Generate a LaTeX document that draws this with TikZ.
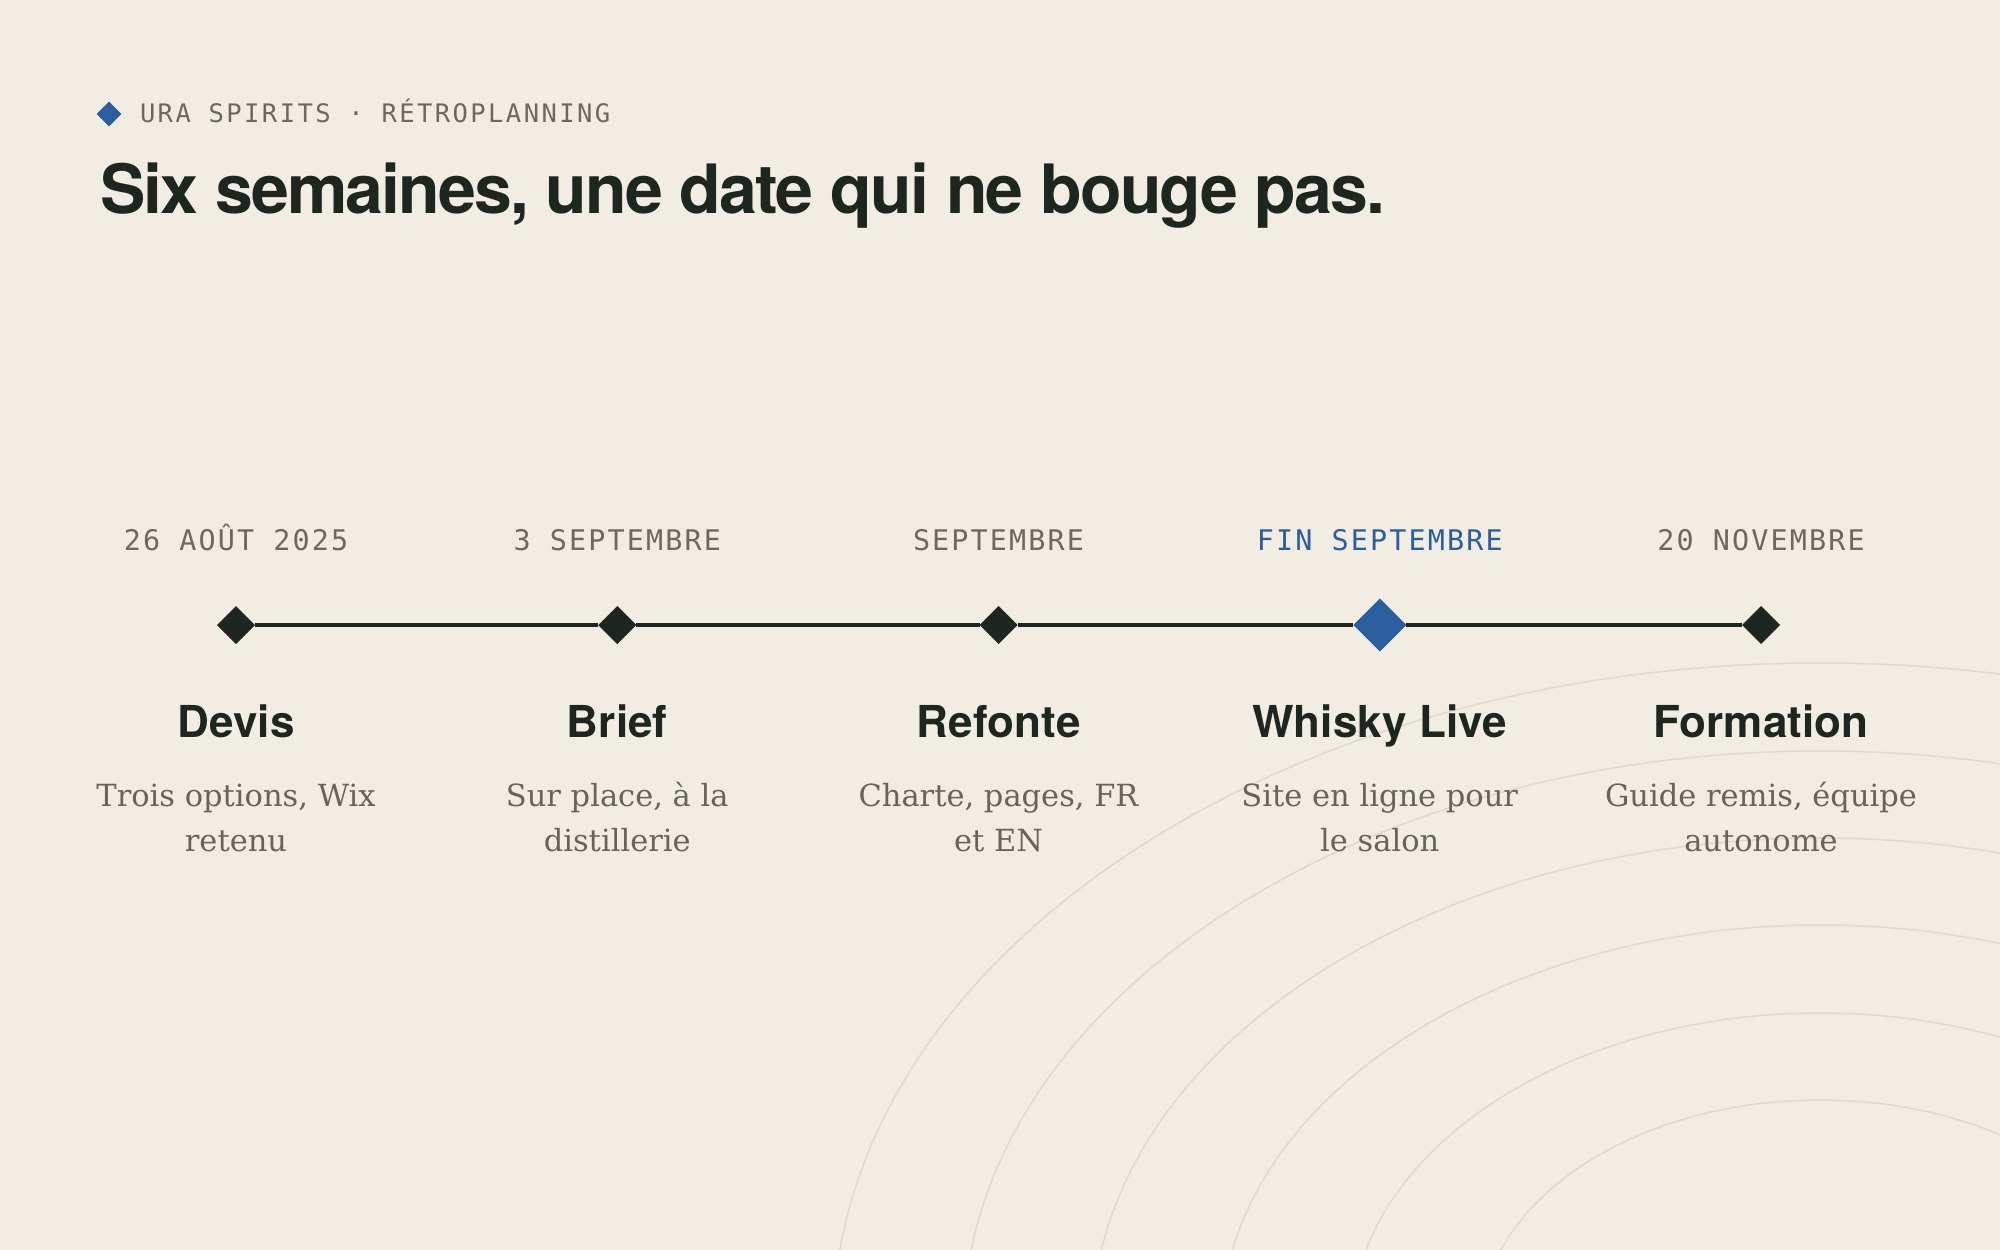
\documentclass[tikz,border=0pt]{standalone}
\usepackage{fontspec}
\setmainfont{DejaVu Serif}
\newfontfamily\headfont[LetterSpace=-2.8]{TeX Gyre Heros}
\newfontfamily\stepfont[LetterSpace=0.3]{TeX Gyre Heros}
\newfontfamily\kickerfont[LetterSpace=9.5]{DejaVu Sans Mono}
\newfontfamily\datefont[LetterSpace=7.5]{DejaVu Sans Mono}
\newfontfamily\descfont{DejaVu Serif}
\usetikzlibrary{shapes.geometric}
\definecolor{bg}{HTML}{F2EDE3}
\definecolor{ink}{HTML}{1E2620}
\definecolor{muted}{HTML}{6E695D}
\definecolor{descc}{HTML}{69645A}
\definecolor{accent}{HTML}{2A5E9E}
\definecolor{arcc}{HTML}{E0DACD}
\begin{document}
\begin{tikzpicture}[x=1pt,y=-1pt,
  txt/.style={inner sep=0pt, outer sep=0pt, anchor=base},
  kicker/.style={txt, anchor=base west, text=muted, font={\kickerfont\fontsize{25.5}{30}\selectfont}},
  headline/.style={txt, anchor=base west, text=ink, font={\headfont\bfseries\fontsize{68}{80}\selectfont}},
  datelbl/.style={txt, text=muted, font={\datefont\fontsize{28.4}{34}\selectfont}},
  steptitle/.style={txt, text=ink, font={\stepfont\bfseries\fontsize{44}{52}\selectfont}},
  desc/.style={txt, text=descc, font={\descfont\fontsize{30.5}{44}\selectfont}},
  milestone/.style={diamond, draw=none, fill=ink, inner sep=0pt, outer sep=0pt, minimum width=38pt, minimum height=38pt},
  keystone/.style={milestone, fill=accent, minimum width=53pt, minimum height=53pt},
  arcline/.style={draw=arcc, line width=1.5pt},
  track/.style={draw=ink, line width=3.5pt}
]
% background
\fill[bg] (0,0) rectangle (2000,1250);
\useasboundingbox (0,0) rectangle (2000,1250);

% decorative arcs
\begin{scope}
  \clip (0,0) rectangle (2000,1250);
  \foreach \b in {667,579,492,405,317,230}
    \draw[arcline] (1820,1330) ellipse [x radius={1.48*\b pt}, y radius={\b pt}];
\end{scope}

% header
\node[diamond, fill=accent, inner sep=0pt, minimum width=25pt, minimum height=25pt] (hdia) at (109,114) {};
\node[kicker] (kick) at (140,122.7) {URA SPIRITS · RÉTROPLANNING};
\node[headline] (title) at (100,213) {Six semaines, une date qui ne bouge pas.};

% dates
\node[datelbl] (t1) at (236,550.7) {26 AOÛT 2025};
\node[datelbl] (t2) at (617.25,550.7) {3 SEPTEMBRE};
\node[datelbl] (t3) at (998.5,550.7) {SEPTEMBRE};
\node[datelbl, text=accent] (t4) at (1379.75,550.7) {FIN SEPTEMBRE};
\node[datelbl] (t5) at (1761,550.7) {20 NOVEMBRE};

% milestones
\node[milestone] (m1) at (236,625) {};
\node[milestone] (m2) at (617.25,625) {};
\node[milestone] (m3) at (998.5,625) {};
\node[keystone]  (m4) at (1379.75,625) {};
\node[milestone] (m5) at (1761,625) {};
\draw[track] (m1) -- (m2);
\draw[track] (m2) -- (m3);
\draw[track] (m3) -- (m4);
\draw[track] (m4) -- (m5);

% step titles
\node[steptitle] (s1) at (236,737) {Devis};
\node[steptitle] (s2) at (617.25,737) {Brief};
\node[steptitle] (s3) at (998.5,737) {Refonte};
\node[steptitle] (s4) at (1379.75,737) {Whisky Live};
\node[steptitle] (s5) at (1761,737) {Formation};

% descriptions
\node[desc] (d1a) at (236,806) {Trois options, Wix};
\node[desc] (d1b) at (236,851) {retenu};
\node[desc] (d2a) at (617.25,806) {Sur place, à la};
\node[desc] (d2b) at (617.25,851) {distillerie};
\node[desc] (d3a) at (998.5,806) {Charte, pages, FR};
\node[desc] (d3b) at (998.5,851) {et EN};
\node[desc] (d4a) at (1379.75,806) {Site en ligne pour};
\node[desc] (d4b) at (1379.75,851) {le salon};
\node[desc] (d5a) at (1761,806) {Guide remis, équipe};
\node[desc] (d5b) at (1761,851) {autonome};
\end{tikzpicture}
\end{document}
